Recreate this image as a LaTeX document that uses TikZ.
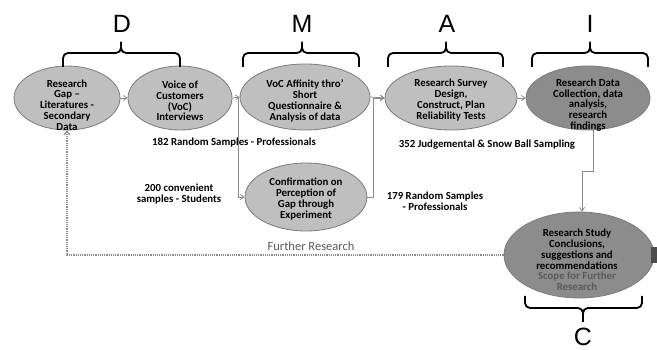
\documentclass[tikz,border=0pt]{standalone}
\usepackage{fontspec}
\setmainfont{Carlito}
\newfontfamily\letterfont{Liberation Sans}
\usetikzlibrary{shapes.geometric,arrows.meta,calc}
\definecolor{lightfill}{HTML}{BFBFBF}
\definecolor{darkfill}{HTML}{8C8C8C}
\definecolor{edgegray}{HTML}{7A7A7A}
\definecolor{linegray}{HTML}{8A8A8A}
\definecolor{softtext}{HTML}{5A5A5A}
\tikzset{
  lightell/.style={ellipse, draw=edgegray, fill=lightfill, line width=0.8pt, inner sep=0pt},
  darkell/.style={ellipse, draw=edgegray, fill=darkfill, line width=0.8pt, inner sep=0pt},
  etext/.style={font=\bfseries\fontsize{10.8}{10.8}\selectfont, align=center, inner sep=0pt},
  note/.style={font=\bfseries\fontsize{10.8}{10.8}\selectfont, align=center, inner sep=0pt},
  arr/.style={draw=linegray, line width=0.8pt, -{Straight Barb[length=3.5pt,width=5pt]}},
  dotarr/.style={draw=linegray, line width=1.2pt, densely dotted, -{Straight Barb[length=3.5pt,width=6pt]}},
  bracepath/.style={draw=black, line width=1.8pt, rounded corners=5pt},
  phase/.style={font=\letterfont\fontsize{25}{25}\selectfont, anchor=base, inner sep=0pt}
}
\begin{document}
\begin{tikzpicture}[x=1pt,y=-1pt]
\useasboundingbox (0,0) rectangle (657,350);

% process ellipses
\node[lightell, minimum width=106pt, minimum height=64pt] (e1) at (67,98) {};
\node[lightell, minimum width=104pt, minimum height=64pt] (e2) at (180,98) {};
\node[lightell, minimum width=130pt, minimum height=66pt] (e3) at (305,97) {};
\node[lightell, minimum width=132pt, minimum height=64pt] (e4) at (451,98) {};
\node[darkell,  minimum width=124pt, minimum height=64pt] (e5) at (588,98) {};
\node[lightell, minimum width=122pt, minimum height=68pt] (e6) at (306,197) {};
\node[darkell,  minimum width=150pt, minimum height=86pt] (e7) at (579,255) {};

% ellipse texts
\node[etext] (t1) at (67,105) {Research\\Gap –\\Literatures -\\Secondary\\Data};
\node[etext] (t2) at (180,101) {Voice of\\Customers\\(VoC)\\Interviews};
\node[etext] (t3) at (305,101) {VoC Affinity thro'\\Short\\Questionnaire \&\\Analysis of data};
\node[etext] (t4) at (451,100) {Research Survey\\Design,\\Construct, Plan\\Reliability Tests};
\node[etext] (t5) at (588,105) {Research Data\\Collection, data\\analysis,\\research\\findings};
\node[etext] (t6) at (306,199) {Confirmation on\\Perception of\\Gap through\\Experiment};
\node[etext] (t7) at (577,260) {Research Study\\Conclusions,\\suggestions and\\recommendations\\\textcolor{softtext}{Scope for Further}\\\textcolor{softtext}{Research}};

% edge of a shape at the right border
\fill[black!70] (651,247) rectangle (657,263);

% sample notes
\node[note] (n1) at (234,143) {182 Random Samples - Professionals};
\node[note] (n2) at (487,145) {352 Judgemental \& Snow Ball Sampling};
\node[note] (n3) at (179,194) {200 convenient\\samples - Students};
\node[note] (n4) at (435,201) {179 Random Samples\\- Professionals};
\node[font=\fontsize{12.5}{12.5}\selectfont, text=softtext, inner sep=0pt] (fr) at (311,246) {Further Research};

% junction points
\coordinate (j1) at (238,98);
\coordinate (j2) at (373,98);
\coordinate (k1) at (593,171);
\coordinate (k2) at (582,171);

% connectors
\draw[arr] (e1.east) -- (e2.west);
\draw[arr] (e2.east) -- (e3.west);
\draw[arr] (j1) |- (e6.west);
\draw[arr] (e3.east) -- (e4.west);
\draw[arr] (e6.east) -| (j2) -- (e4.west);
\draw[arr] (e4.east) -- (e5.west);
\draw[arr] (e5.south -| k1) -- (k1) -- (k2) -- (k2 |- e7.north);
\draw[dotarr] (e7.west) -| (e1.south);

% DMAIC braces
\draw[bracepath] (63,67) -- (63,53) -- (121,53) -- (121,42);
\draw[bracepath] (180,67) -- (180,53) -- (121,53) -- (121,42);
\draw[bracepath] (243,67) -- (243,53) -- (302,53) -- (302,42);
\draw[bracepath] (359,67) -- (359,53) -- (302,53) -- (302,42);
\draw[bracepath] (388,67) -- (388,53) -- (446,53) -- (446,42);
\draw[bracepath] (503,67) -- (503,53) -- (446,53) -- (446,42);
\draw[bracepath] (532,67) -- (532,53) -- (590,53) -- (590,42);
\draw[bracepath] (648,67) -- (648,53) -- (590,53) -- (590,42);
\draw[bracepath] (525,296) -- (525,308) -- (583,308) -- (583,322);
\draw[bracepath] (642,296) -- (642,308) -- (583,308) -- (583,322);

% phase letters
\node[phase] (pd) at (122,33) {D};
\node[phase] (pm) at (302,33) {M};
\node[phase] (pa) at (447,33) {A};
\node[phase] (pi) at (590,33) {I};
\node[phase] (pc) at (583,345) {C};
\end{tikzpicture}
\end{document}
